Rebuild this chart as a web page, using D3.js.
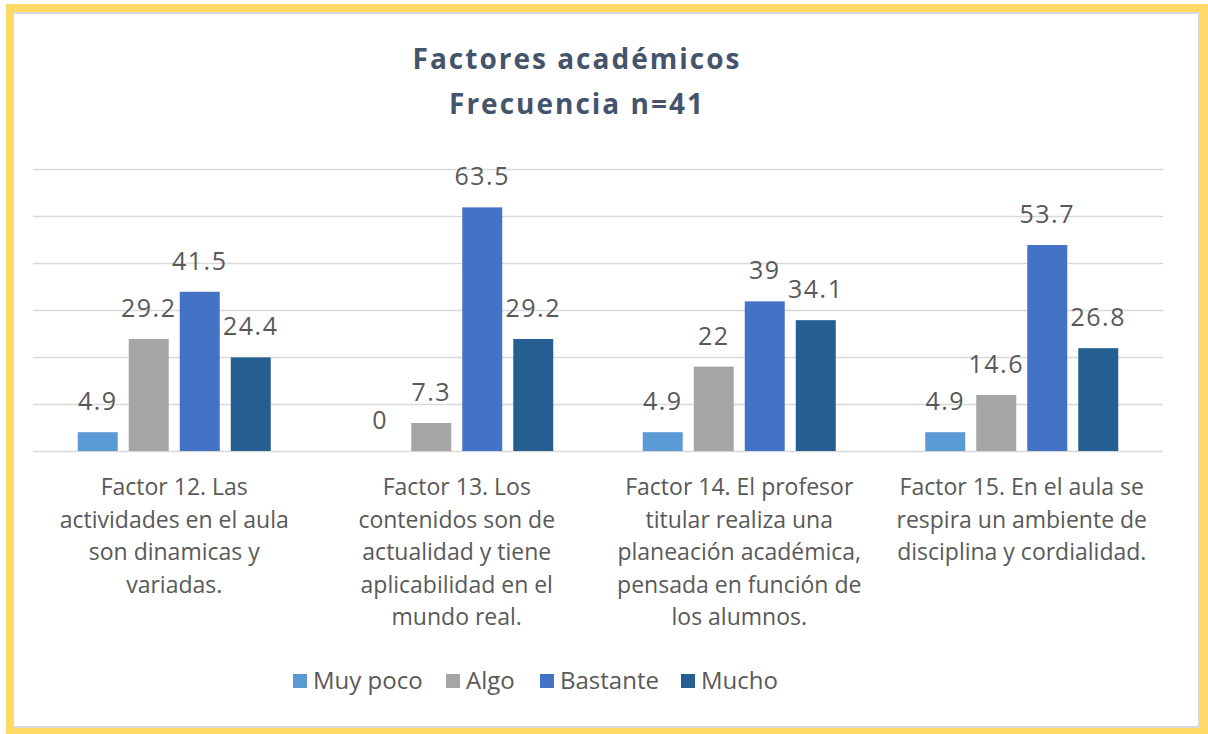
<!DOCTYPE html>
<html>
<head>
<meta charset="utf-8">
<script src="https://cdn.jsdelivr.net/npm/d3@7"></script>
<style>
  html, body { margin: 0; padding: 0; background: #fff; }
  svg text { font-family: "Open Sans", "Noto Sans", sans-serif; }
</style>
</head>
<body>
<div id="chart"></div>
<script>
// Factores académicos - barre raggruppate, frequenza n=41

const categorie = [
  ["Factor 12. Las", "actividades en el aula", "son dinamicas y", "variadas."],
  ["Factor 13. Los", "contenidos son de", "actualidad y tiene", "aplicabilidad en el", "mundo real."],
  ["Factor 14. El profesor", "titular realiza una", "planeación académica,", "pensada en función de", "los alumnos."],
  ["Factor 15. En el aula se", "respira un ambiente de", "disciplina y cordialidad."]
];
const serie = ["Muy poco", "Algo", "Bastante", "Mucho"];
const muyPoco  = [4.9, 0, 4.9, 4.9];
const algo     = [29.2, 7.3, 22, 14.6];
const bastante = [41.5, 63.5, 39, 53.7];
const mucho    = [24.4, 29.2, 34.1, 26.8];
const colori   = ["#5B9BD5", "#A5A5A5", "#4472C4", "#255E91"];
// griglia orizzontale (asse nascosto)
const tickGriglia = [0, 12.25, 24.5, 36.75, 49, 61.25, 73.5];

const W = 1208, H = 734;
const plot = { left: 33, right: 1163, top: 169, bottom: 451 };

const valori = [muyPoco, algo, bastante, mucho];
const righe = categorie.map((c, i) => ({
  idx: i,
  linee: c,
  valori: serie.map((s, j) => ({ serie: s, v: valori[j][i], j }))
}));

const svg = d3.select('#chart').append('svg')
  .attr('width', W)
  .attr('height', H);

// cornice gialla + ombra grigia
svg.append('rect')
  .attr('x', 6).attr('y', 4)
  .attr('width', W - 6).attr('height', H - 4)
  .attr('fill', '#FFD966');
svg.append('rect')
  .attr('x', 14).attr('y', 12)
  .attr('width', 1186).attr('height', 716)
  .attr('fill', '#D9D9D9');
svg.append('rect')
  .attr('x', 14).attr('y', 14)
  .attr('width', 1184).attr('height', 712)
  .attr('fill', '#fff');

// titolo
svg.append('text')
  .attr('x', 577).attr('y', 69)
  .attr('text-anchor', 'middle')
  .attr('font-size', 28)
  .attr('font-weight', 700)
  .attr('letter-spacing', 2)
  .attr('fill', '#44546A')
  .selectAll('tspan')
  .data(["Factores académicos", "Frecuencia n=41"])
  .join('tspan')
  .attr('x', 577)
  .attr('dy', (d, i) => i === 0 ? 0 : 45)
  .text(d => d);

// scale
const x0 = d3.scaleBand()
  .domain(righe.map(d => d.idx))
  .range([plot.left, plot.right]);

const x1 = d3.scaleBand()
  .domain(serie)
  .range([-96.5, 96.5])
  .paddingInner(0.216);

const y = d3.scaleLinear()
  .domain([0, 73.5])
  .range([plot.bottom, plot.top]);

// griglia
svg.append('g')
  .selectAll('line')
  .data(tickGriglia)
  .join('line')
  .attr('x1', plot.left).attr('x2', plot.right)
  .attr('y1', d => Math.round(y(d)) + 0.5)
  .attr('y2', d => Math.round(y(d)) + 0.5)
  .attr('stroke', '#D9D9D9')
  .attr('stroke-width', 1.5);

// gruppi di barre
const gruppi = svg.append('g')
  .selectAll('g')
  .data(righe)
  .join('g')
  .attr('transform', d => `translate(${x0(d.idx) + x0.bandwidth() / 2},0)`);

gruppi.selectAll('rect')
  .data(d => d.valori)
  .join('rect')
  .attr('x', d => x1(d.serie))
  .attr('y', d => y(d.v))
  .attr('width', x1.bandwidth())
  .attr('height', d => y(0) - y(d.v))
  .attr('fill', d => colori[d.j]);

// etichette valori
gruppi.selectAll('text.valore')
  .data(d => d.valori)
  .join('text')
  .attr('class', 'valore')
  .attr('x', d => x1(d.serie) + x1.bandwidth() / 2)
  .attr('y', d => y(d.v) - 22)
  .attr('text-anchor', 'middle')
  .attr('font-size', 25)
  .attr('letter-spacing', 1.5)
  .attr('fill', '#595959')
  .text(d => d.v);

// etichette categorie (su più righe)
gruppi.append('text')
  .attr('text-anchor', 'middle')
  .attr('font-size', 23)
  .attr('fill', '#595959')
  .selectAll('tspan')
  .data(d => d.linee)
  .join('tspan')
  .attr('x', 0)
  .attr('y', (d, i) => 495 + i * 32.5)
  .text(d => d);

// legenda
const legX = [293, 446, 540, 681];
const legenda = svg.append('g')
  .selectAll('g')
  .data(serie)
  .join('g')
  .attr('transform', (d, i) => `translate(${legX[i]},674)`);

legenda.append('rect')
  .attr('width', 14).attr('height', 14)
  .attr('fill', (d, i) => colori[i]);

legenda.append('text')
  .attr('x', 20).attr('y', 15)
  .attr('font-size', 24)
  .attr('fill', '#595959')
  .text(d => d);
</script>
</body>
</html>
